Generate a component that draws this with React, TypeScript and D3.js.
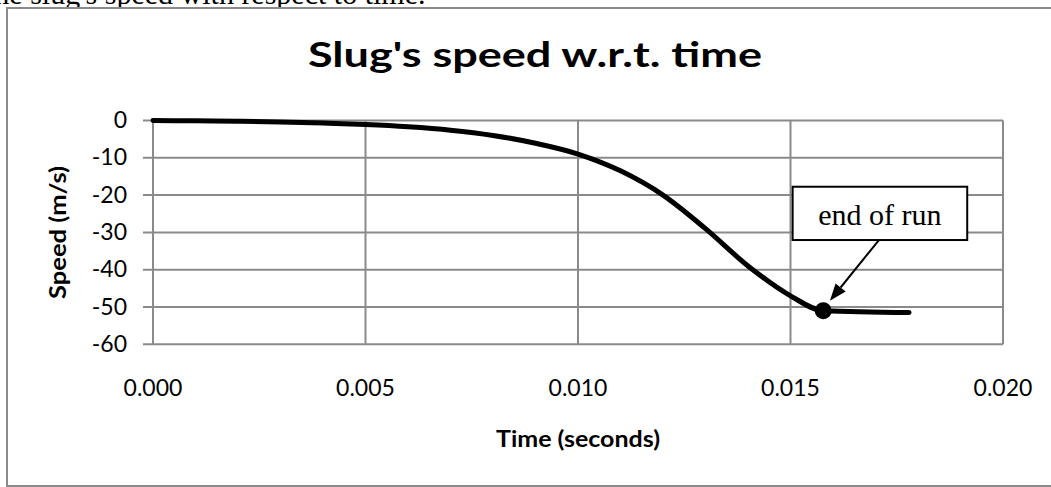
import React from "react";
import * as d3 from "d3";

// ---- data ----
const timeValues = [0, 0.001, 0.002, 0.003, 0.004, 0.005, 0.006, 0.007, 0.008, 0.009, 0.01, 0.011, 0.012, 0.013, 0.014, 0.015, 0.01577, 0.01779];
const speedValues = [0, -0.1, -0.2, -0.4, -0.7, -1.1, -1.7, -2.6, -4.0, -6.1, -9.0, -13.5, -20.0, -29.0, -39.0, -47.0, -51.0, -51.5];
const endOfRunIndex = 16;
const xTicks = [0, 0.005, 0.01, 0.015, 0.02];
const yTicks = [0, -10, -20, -30, -40, -50, -60];
const titleText = "Slug's speed w.r.t. time";
const xTitle = "Time (seconds)";
const yTitle = "Speed (m/s)";
const annotationText = "end of run";
const pageText = "the slug's speed with respect to time.";

const W = 1051;
const H = 487;
const grid = "#8a8a8a";
const sans = "Lato, 'Open Sans', sans-serif";
const serif = "'Liberation Serif', 'DejaVu Serif', serif";

export default function App() {
  const x = d3.scaleLinear().domain([0, 0.02]).range([153, 1003]);
  const y = d3.scaleLinear().domain([-60, 0]).range([344.3, 120.5]);
  const pts = timeValues.map((t, i) => [t, speedValues[i]] as [number, number]);
  const line = d3
    .line<[number, number]>()
    .x((d) => x(d[0]))
    .y((d) => y(d[1]))
    .curve(d3.curveMonotoneX);

  const mx = x(timeValues[endOfRunIndex]);
  const my = y(speedValues[endOfRunIndex]);
  // annotation placed relative to the marker
  const box = { x: mx - 30.6, y: my - 124, w: 174.6, h: 53.3 };
  const start = { x: box.x + box.w / 2 - 1, y: box.y + box.h };
  const tip = { x: mx + 6.7, y: my - 10 };
  const ang = Math.atan2(tip.y - start.y, tip.x - start.x);
  const hl = 17;
  const hw = 6.5;
  const bx = tip.x - hl * Math.cos(ang);
  const by = tip.y - hl * Math.sin(ang);
  const px = -Math.sin(ang);
  const py = Math.cos(ang);
  const head = `${tip.x},${tip.y} ${bx + hw * px},${by + hw * py} ${bx - hw * px},${by - hw * py}`;

  const [x0, x1] = x.range();
  const [yb, yt] = y.range();

  return (
    <div style={{ position: "absolute", left: 0, top: 0, width: W, height: H, overflow: "hidden", background: "#fff" }}>
      <svg width={W} height={H} viewBox={`0 0 ${W} ${H}`} style={{ display: "block" }}>
        <rect x={0} y={0} width={W} height={H} fill="#fff" />
        <text x={-14} y={4} fontFamily={serif} fontSize={30} fill="#000">
          {pageText}
        </text>
        <rect x={7} y={8} width={1060} height={478} fill="#fff" stroke={grid} strokeWidth={2} />

        <text x={535} y={66.7} textAnchor="middle" fontFamily={sans} fontWeight={700} fontSize={35} textLength={454} lengthAdjust="spacingAndGlyphs" fill="#000">
          {titleText}
        </text>

        {/* horizontal gridlines + ticks */}
        {yTicks.map((v) => (
          <g key={"y" + v}>
            <line x1={x0 - 10} x2={x1} y1={y(v)} y2={y(v)} stroke={grid} strokeWidth={2} />
            <text x={127} y={y(v) + 7.5} textAnchor="end" fontFamily={sans} fontSize={23} fill="#000">
              {v}
            </text>
          </g>
        ))}
        {/* vertical gridlines */}
        {xTicks.map((t) => (
          <g key={"x" + t}>
            <line x1={x(t)} x2={x(t)} y1={yt} y2={yb} stroke={grid} strokeWidth={2} />
            <text x={x(t)} y={396} textAnchor="middle" fontFamily={sans} fontSize={23} fill="#000">
              {d3.format(".3f")(t)}
            </text>
          </g>
        ))}

        <text x={(x0 + x1) / 2} y={446.5} textAnchor="middle" fontFamily={sans} fontWeight={700} fontSize={23} textLength={164} lengthAdjust="spacingAndGlyphs" fill="#000">
          {xTitle}
        </text>
        <text transform={`translate(65.5, ${(yt + yb) / 2}) rotate(-90)`} textAnchor="middle" fontFamily={sans} fontWeight={700} fontSize={23} textLength={133} lengthAdjust="spacingAndGlyphs" fill="#000">
          {yTitle}
        </text>

        <path d={line(pts) || ""} fill="none" stroke="#000" strokeWidth={5} strokeLinecap="round" strokeLinejoin="round" />
        <circle cx={mx} cy={my} r={8.5} fill="#000" />

        {/* annotation */}
        <rect x={box.x} y={box.y} width={box.w} height={box.h} fill="#fff" stroke="#000" strokeWidth={2} />
        <text x={box.x + box.w / 2} y={box.y + 38.5} textAnchor="middle" fontFamily={serif} fontSize={30} fill="#000">
          {annotationText}
        </text>
        <line x1={start.x} y1={start.y} x2={bx} y2={by} stroke="#000" strokeWidth={2} />
        <polygon points={head} fill="#000" />
      </svg>
    </div>
  );
}
